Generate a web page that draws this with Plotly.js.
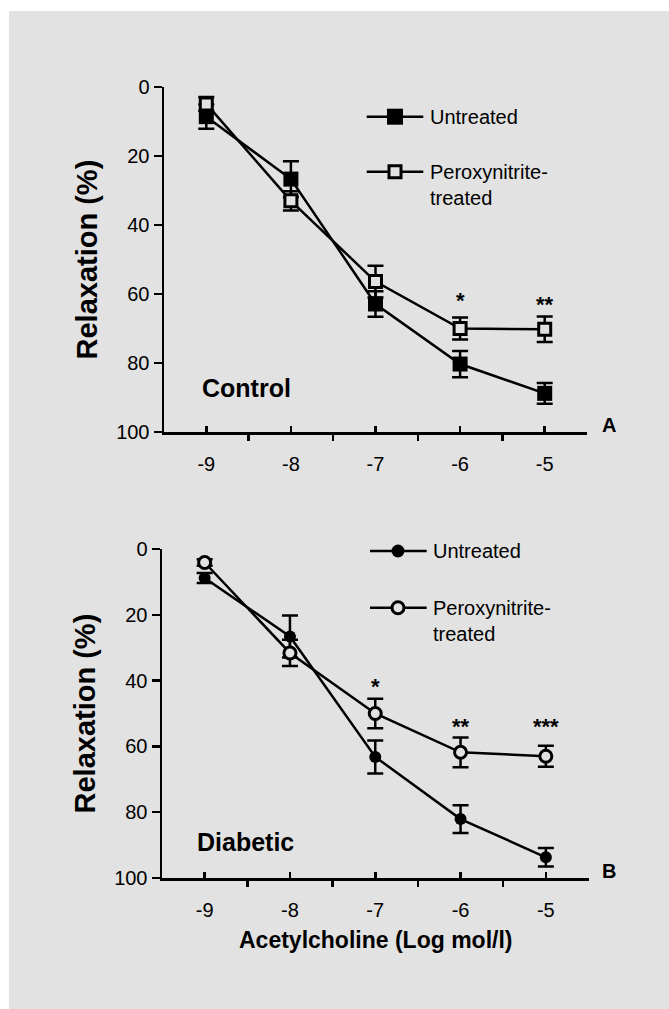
<!DOCTYPE html>
<html>
<head>
<meta charset="utf-8">
<script src="https://cdn.plot.ly/plotly-3.0.1.min.js"></script>
<style>html,body{margin:0;padding:0;background:#fff;}</style>
</head>
<body>
<div id="chart" style="width:669px;height:1009px;"></div>
<script>
// ---- data ----
const doses = [-9, -8, -7, -6, -5];
const xTickLabels = ['-9', '-8', '-7', '-6', '-5'];
const yTicks = [0, 20, 40, 60, 80, 100];

const ctrlUntreated = [8.6, 26.7, 62.9, 80.3, 88.8];
const ctrlUntreatedErr = [3.5, 5.2, 3.7, 3.8, 3.0];
const ctrlPeroxy = [4.9, 33.0, 56.4, 70.0, 70.2];
const ctrlPeroxyErr = [2.0, 2.8, 4.6, 3.2, 3.7];

const diabUntreated = [8.8, 26.6, 63.2, 82.1, 93.7];
const diabUntreatedErr = [1.5, 6.4, 5.0, 4.2, 2.8];
const diabPeroxy = [4.1, 31.6, 50.0, 61.8, 63.0];
const diabPeroxyErr = [1.0, 4.0, 4.5, 4.5, 3.2];

const ctrlStars = ['', '', '', '*', '**'];
const ctrlStarY = [null, null, null, 60.3, 61.7];
const diabStars = ['', '', '*', '**', '***'];
const diabStarY = [null, null, 40.4, 52.4, 52.4];

const seriesNames = ['Untreated', 'Peroxynitrite-<br>treated'];

// ---- layout helpers ----
const W = 669, H = 1009;
const BG = '#e2e2e2';
const FONT = 'Liberation Sans, Arial, Helvetica, sans-serif';
const px = v => v / W;
const py = v => 1 - v / H;

function trace(y, err, xa, ya, symbol, size, filled, name) {
  return {
    x: doses, y: y, xaxis: xa, yaxis: ya, name: name,
    mode: 'lines+markers', type: 'scatter',
    line: {color: 'black', width: 2.5},
    marker: {symbol: symbol, size: size, color: filled ? 'black' : BG,
             line: {color: 'black', width: filled ? 0 : 3}},
    error_y: {type: 'data', array: err, visible: true, color: 'black', thickness: 2.5, width: 8},
    hoverinfo: 'x+y'
  };
}

const data = [
  trace(ctrlUntreated, ctrlUntreatedErr, 'x', 'y', 'square', 15, true, 'Untreated'),
  trace(ctrlPeroxy, ctrlPeroxyErr, 'x', 'y', 'square', 12, false, 'Peroxynitrite-treated'),
  trace(diabUntreated, diabUntreatedErr, 'x2', 'y2', 'circle', 12, true, 'Untreated'),
  trace(diabPeroxy, diabPeroxyErr, 'x2', 'y2', 'circle', 12, false, 'Peroxynitrite-treated')
];

function xAxis(domain, anchor) {
  return {
    domain: domain, anchor: anchor, range: [-9.5, -4.5],
    tickmode: 'array', tickvals: doses, ticktext: xTickLabels,
    ticks: 'inside', ticklen: 6, tickwidth: 2.5, tickcolor: 'black',
    ticklabelstandoff: 12,
    minor: {tickmode: 'linear', tick0: -9.5, dtick: 1, ticks: 'outside', ticklen: 6, tickwidth: 2.5, tickcolor: 'black', showgrid: false},
    showline: true, linewidth: 2.5, linecolor: 'black',
    showgrid: false, zeroline: false, automargin: false,
    tickfont: {size: 20, family: FONT, color: 'black'}
  };
}
function yAxis(domain, anchor) {
  return {
    domain: domain, anchor: anchor, range: [100, 0],
    tickmode: 'array', tickvals: yTicks,
    ticks: 'outside', ticklen: 8, tickwidth: 2.5, tickcolor: 'black',
    showline: true, linewidth: 2.5, linecolor: 'black',
    showgrid: false, zeroline: false, automargin: false,
    tickfont: {size: 20, family: FONT, color: 'black'}
  };
}

const shapes = [
  {type: 'rect', xref: 'paper', yref: 'paper', x0: px(9), x1: 1, y0: 0, y1: py(11),
   fillcolor: BG, line: {width: 0}, layer: 'below'}
];

function legendLine(x0, x1, y) {
  shapes.push({type: 'line', xref: 'paper', yref: 'paper', x0: px(x0), x1: px(x1), y0: py(y), y1: py(y),
               line: {color: 'black', width: 2.5}});
}
function legendMarker(kind, cx, cy, half, filled) {
  shapes.push({type: kind, xref: 'paper', yref: 'paper', xsizemode: 'pixel', ysizemode: 'pixel',
               xanchor: px(cx), yanchor: py(cy), x0: -half, x1: half, y0: -half, y1: half,
               fillcolor: filled ? 'black' : BG, line: {color: 'black', width: filled ? 0 : 3}});
}
// top legend
legendLine(366.7, 423.3, 116.7); legendMarker('rect', 395, 116.7, 8, true);
legendLine(366.7, 423.3, 171.7); legendMarker('rect', 395, 171.7, 6, false);
// bottom legend
legendLine(370, 426.7, 551); legendMarker('circle', 398, 551, 6.5, true);
legendLine(370, 426.7, 607.7); legendMarker('circle', 398, 607.7, 6, false);

const annotations = [];
function ann(text, x, y, size, bold, opts) {
  annotations.push(Object.assign({
    text: text, xref: 'paper', yref: 'paper', x: px(x), y: py(y), showarrow: false,
    xanchor: 'left', yanchor: 'middle', align: 'left',
    font: {size: size, family: FONT, color: 'black', weight: bold ? 'bold' : 'normal'}
  }, opts || {}));
}
// legend texts
ann(seriesNames[0], 428, 116.7, 20, false);
ann(seriesNames[1], 428, 185, 20, false);
ann(seriesNames[0], 431, 551, 20, false);
ann(seriesNames[1], 431, 621.3, 20, false);
// panel labels
ann('Control', 200, 388, 25, true);
ann('Diabetic', 195, 841.7, 25, true);
ann('A', 609, 425, 20, true, {xanchor: 'center'});
ann('B', 609, 871, 20, true, {xanchor: 'center'});
// axis titles
ann('Relaxation (%)', 86, 259.5, 29, true, {xanchor: 'center', textangle: -90});
ann('Relaxation (%)', 84, 713.5, 29, true, {xanchor: 'center', textangle: -90});
ann('Acetylcholine (Log mol/l)', 375.5, 940, 23, true, {xanchor: 'center'});

// significance stars (data coordinates)
doses.forEach((d, i) => {
  if (ctrlStars[i]) annotations.push({text: ctrlStars[i], xref: 'x', yref: 'y', x: d, y: ctrlStarY[i],
    showarrow: false, yshift: -5, font: {size: 22, family: FONT, color: 'black', weight: 'bold'}});
  if (diabStars[i]) annotations.push({text: diabStars[i], xref: 'x2', yref: 'y2', x: d, y: diabStarY[i],
    showarrow: false, yshift: -5, font: {size: 22, family: FONT, color: 'black', weight: 'bold'}});
});

const layout = {
  width: W, height: H,
  margin: {l: 0, r: 0, t: 0, b: 0, pad: 0},
  paper_bgcolor: '#ffffff', plot_bgcolor: 'rgba(0,0,0,0)',
  showlegend: false,
  font: {family: FONT, color: 'black', size: 20},
  xaxis: xAxis([164 / W, 587 / W], 'y'),
  yaxis: yAxis([1 - 432 / H, 1 - 87 / H], 'x'),
  xaxis2: xAxis([162 / W, 588.5 / W], 'y2'),
  yaxis2: yAxis([1 - 878 / H, 1 - 549 / H], 'x2'),
  shapes: shapes,
  annotations: annotations
};

Plotly.newPlot('chart', data, layout, {displayModeBar: false, staticPlot: true});
</script>
</body>
</html>
